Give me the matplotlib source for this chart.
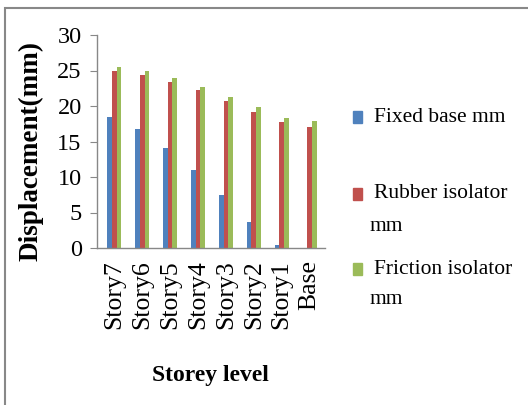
import numpy as np
import matplotlib
matplotlib.use("Agg")
import matplotlib.pyplot as plt
from matplotlib.patches import Rectangle

plt.rcParams['font.family'] = ['Liberation Serif', 'DejaVu Serif']

storeys = ['Story7', 'Story6', 'Story5', 'Story4', 'Story3', 'Story2', 'Story1', 'Base']
fixed_base = [18.4, 16.8, 14.1, 11.0, 7.4, 3.6, 0.4, 0.0]
rubber = [25.0, 24.4, 23.4, 22.2, 20.7, 19.2, 17.8, 17.1]
friction = [25.5, 24.9, 23.9, 22.7, 21.2, 19.8, 18.3, 17.9]
yticks = [0, 5, 10, 15, 20, 25, 30]

c_fixed = '#4F81BD'
c_rubber = '#C0504D'
c_friction = '#9BBB59'

W, H = 528, 405
fig = plt.figure(figsize=(W / 100, H / 100), dpi=100)
ax = fig.add_axes([97 / W, 1 - 248 / H, 228 / W, 213 / H])

x = np.arange(len(storeys))
bw = 0.17
ax.bar(x - bw, fixed_base, bw, color=c_fixed)
ax.bar(x, rubber, bw, color=c_rubber)
ax.bar(x + bw, friction, bw, color=c_friction)

ax.set_xlim(-0.62, 7.55)
ax.set_ylim(0, 30)
ax.set_yticks(yticks)
ax.set_yticklabels([str(v) for v in yticks], fontsize=17.5)
ax.set_xticks(x)
ax.set_xticklabels(storeys, rotation=90, fontsize=18.5, va='top', ha='center')
ax.tick_params(axis='x', length=0, pad=9)
ax.tick_params(axis='y', length=5, color='#888888', pad=6)

for s in ['top', 'right']:
    ax.spines[s].set_visible(False)
for s in ['left', 'bottom']:
    ax.spines[s].set_color('#888888')
    ax.spines[s].set_linewidth(1.0)

ax.set_ylabel('Displacement(mm)', fontsize=19.5, fontweight='bold')
ax.yaxis.set_label_coords(-0.236, 0.455)
ax.set_xlabel('Storey level', fontsize=17, fontweight='bold')
ax.xaxis.set_label_coords(0.496, -0.548)

# legend drawn by hand to follow the wrapped layout
entries = [(c_fixed, 117, 'Fixed base mm', None),
           (c_rubber, 194, 'Rubber isolator', 227),
           (c_friction, 269, 'Friction isolator', 300)]
for col, yy, lab, y2 in entries:
    fig.add_artist(Rectangle((353 / W, 1 - (yy + 6) / H), 9 / W, 12 / H,
                             transform=fig.transFigure, color=col))
    fig.text(374 / W, 1 - yy / H, lab, fontsize=15.5, va='center', ha='left')
    if y2 is not None:
        fig.text(369 / W, 1 - y2 / H, 'mm', fontsize=15.5, va='center', ha='left')

# outer chart frame
fig.add_artist(Rectangle((5 / W, -0.1), 1.2, 1 - 8 / H + 0.1,
                         transform=fig.transFigure, fill=False,
                         edgecolor='#888888', linewidth=1.5))

fig.savefig('out.png', dpi=100)
